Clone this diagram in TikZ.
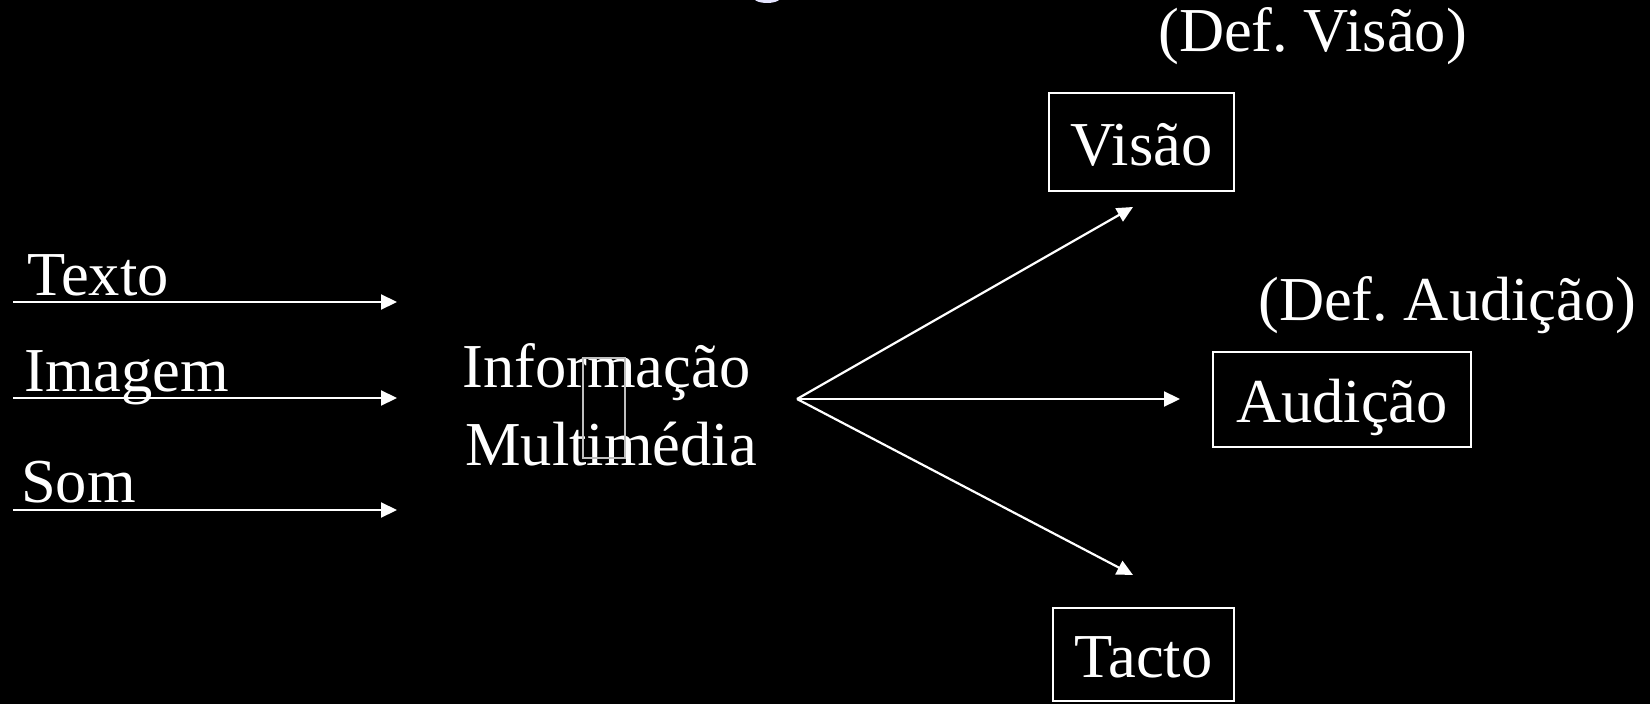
\documentclass[tikz,border=0pt]{standalone}
\usepackage{fontspec}
\setmainfont{Liberation Serif}
\usetikzlibrary{arrows.meta,positioning}

\begin{document}
\frenchspacing
\begin{tikzpicture}[x=1bp,y=-1bp]
\tikzstyle{word}=[text=white, inner sep=0pt, anchor=base west, font=\fontsize{62.5bp}{75bp}\selectfont]
\tikzstyle{sense}=[rectangle, draw=white, line width=2bp, text=white, inner sep=0pt, text height=46bp, text depth=0pt, font=\fontsize{62.5bp}{75bp}\selectfont]
\tikzstyle{connect}=[-{Triangle[length=16bp,width=15bp]}, draw=white, line width=2.2bp]
  \useasboundingbox (0,0) rectangle (1650,704);
  \fill[black] (0,0) rectangle (1650,704);
  % bit of the title cut off by the page
  \fill[white!90!blue] (767,-4) ellipse (15bp and 7bp);
  \node[word] (texto) at (27,295) {Texto};
  \node[word] (imagem) at (24,391) {Imagem};
  \node[word] (som) at (21,502) {Som};
  \node[word] (info) at (462,387) {Informação};
  \node[word] (multi) at (465,465) {Multimédia};
  \node[word] (defvisao) at (1158,52) {(Def. Visão)};
  \node[word] (defaudicao) at (1258,320) {(Def. Audição)};
  \node[sense, minimum width=185bp, minimum height=98bp] (visao) at (1141.5,142) {Visão};
  \node[sense, minimum width=258bp, minimum height=95bp] (audicao) at (1342,399.5) {Audição};
  \node[sense, minimum width=181bp, minimum height=93bp] (tacto) at (1143.5,654.5) {Tacto};
  \node[rectangle, draw=white!75!black, line width=1.2bp, inner sep=0pt, minimum width=42bp, minimum height=100bp] (stray) at (604,408) {};
  \coordinate (texto in) at (13,302);
  \coordinate (texto out) at (397,302);
  \coordinate (imagem in) at (13,398);
  \coordinate (imagem out) at (397,398);
  \coordinate (som in) at (13,510);
  \coordinate (som out) at (397,510);
  \coordinate (fan) at (797,399);
  \coordinate (to visao) at (1133,207);
  \coordinate (to audicao) at (1180,399);
  \coordinate (to tacto) at (1133,575);
  \path (texto in) edge [connect] (texto out)
        (imagem in) edge [connect] (imagem out)
        (som in) edge [connect] (som out)
        (fan) edge [connect] (to visao)
        (fan) edge [connect] (to audicao)
        (fan) edge [connect] (to tacto);
\end{tikzpicture}
\end{document}
